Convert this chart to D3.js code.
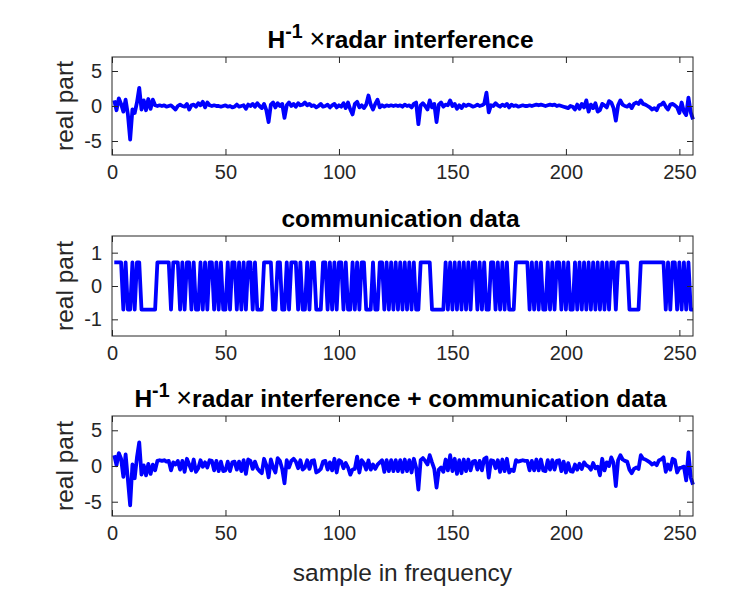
<!DOCTYPE html>
<html><head><meta charset="utf-8">
<script src="https://cdn.jsdelivr.net/npm/d3@7/dist/d3.min.js"></script>
<style>
body{margin:0;background:#fff}
text{font-family:"Liberation Sans",Arial,Helvetica,sans-serif}
</style>
</head><body>
<svg id="chart" width="750" height="600"></svg>
<script>
// ---------- data ----------
const radarInterference = [
 0.8,-0.6,1.1,0.3,-0.8,0.9,-1.2,-4.8,-0.5,-1.0,0.5,2.6,-0.5,0.8,-0.6,1.0,
 -0.4,0.9,0.1,0.0,0.1,0.0,0.1,-0.1,0.0,0.1,-0.2,-0.5,0.0,0.2,0.0,-0.1,
 0.3,-0.5,0.1,0.2,-0.1,0.4,0.1,0.6,-0.2,0.5,0.1,0.0,0.1,0.0,0.0,-0.1,
 0.0,0.1,-0.1,0.0,-0.2,-0.1,0.2,-0.1,0.0,0.1,-0.4,0.2,0.0,0.3,-0.1,0.4,
 0.0,-0.3,0.3,-0.6,-2.3,0.2,0.5,-0.2,0.4,0.0,0.3,-1.7,0.1,0.5,0.0,0.3,
 -0.1,0.4,0.1,0.2,0.5,0.1,0.3,0.0,0.1,-0.2,0.0,0.3,-0.1,0.0,0.2,-0.2,
 0.1,0.3,-0.2,0.1,-0.1,0.4,-0.3,0.5,-0.5,-1.2,0.3,0.6,-0.2,0.1,-0.3,0.2,
 1.5,0.2,-0.5,0.3,0.9,-0.2,0.1,-0.1,0.1,0.0,0.1,0.0,0.1,0.0,0.1,-0.1,
 0.2,0.0,0.1,-0.2,0.3,0.5,-2.6,0.1,0.4,0.0,-0.5,0.8,-0.2,0.3,-2.3,0.2,
 0.5,-0.1,0.2,0.1,0.8,0.0,0.3,-0.4,0.1,-0.3,0.2,0.0,0.2,0.1,-0.1,0.0,
 0.2,0.0,0.1,0.3,1.9,-0.9,0.1,0.0,0.4,0.1,-0.1,0.2,0.0,0.3,-0.2,0.2,
 0.0,0.1,-0.1,0.0,0.1,0.0,0.0,0.1,0.0,0.1,0.2,0.1,0.2,0.1,0.0,0.1,
 0.2,0.1,0.2,0.0,0.1,0.0,-0.1,-0.2,-0.3,0.0,-0.1,-0.5,0.2,-0.4,0.3,-0.2,
 0.8,-0.8,0.2,-0.3,0.4,-0.8,-0.6,0.3,0.1,-0.2,0.7,0.5,-0.3,-2.1,0.1,0.8,
 0.2,0.0,-0.1,0.2,-0.3,0.3,0.5,0.3,0.8,0.3,0.2,0.0,-0.2,-0.5,-0.3,-0.6,
 0.1,0.2,0.5,-0.1,-0.5,0.2,0.3,0.1,-0.2,-1.0,0.5,-0.8,-1.3,1.2,-0.9,-1.9
];
const communicationData = [
 0.71,0.71,0.71,0.71,-0.71,0.71,-0.71,-0.71,0.71,-0.71,0.71,0.71,-0.71,-0.71,-0.71,-0.71,
 -0.71,-0.71,-0.71,0.71,0.71,0.71,0.71,0.71,0.71,-0.71,0.71,0.71,0.71,-0.71,0.71,-0.71,
 0.71,0.71,-0.71,0.71,-0.71,-0.71,0.71,-0.71,0.71,-0.71,0.71,0.71,-0.71,0.71,-0.71,0.71,
 -0.71,-0.71,0.71,-0.71,0.71,0.71,-0.71,0.71,-0.71,0.71,-0.71,0.71,0.71,-0.71,0.71,-0.71,
 -0.71,-0.71,0.71,0.71,0.71,0.71,-0.71,-0.71,0.71,0.71,-0.71,-0.71,0.71,-0.71,0.71,0.71,
 0.71,-0.71,0.71,-0.71,-0.71,0.71,-0.71,0.71,0.71,-0.71,-0.71,-0.71,0.71,0.71,-0.71,0.71,
 -0.71,0.71,-0.71,0.71,0.71,-0.71,0.71,-0.71,-0.71,0.71,-0.71,0.71,-0.71,0.71,0.71,-0.71,
 -0.71,-0.71,0.71,-0.71,-0.71,0.71,0.71,-0.71,0.71,-0.71,0.71,-0.71,0.71,-0.71,0.71,-0.71,
 0.71,-0.71,0.71,-0.71,0.71,-0.71,-0.71,0.71,0.71,0.71,0.71,0.71,-0.71,-0.71,-0.71,-0.71,
 -0.71,-0.71,0.71,-0.71,0.71,-0.71,0.71,-0.71,0.71,-0.71,0.71,-0.71,0.71,-0.71,0.71,0.71,
 -0.71,0.71,-0.71,0.71,-0.71,-0.71,0.71,0.71,-0.71,0.71,-0.71,0.71,-0.71,0.71,-0.71,-0.71,
 -0.71,0.71,0.71,0.71,0.71,0.71,0.71,-0.71,0.71,-0.71,0.71,-0.71,0.71,-0.71,-0.71,0.71,
 -0.71,0.71,-0.71,0.71,0.71,-0.71,0.71,-0.71,0.71,-0.71,-0.71,0.71,-0.71,0.71,-0.71,0.71,
 -0.71,0.71,-0.71,0.71,-0.71,0.71,-0.71,0.71,-0.71,0.71,-0.71,0.71,0.71,-0.71,0.71,0.71,
 0.71,0.71,0.71,-0.71,-0.71,-0.71,-0.71,-0.71,0.71,0.71,0.71,0.71,0.71,0.71,0.71,0.71,
 0.71,0.71,0.71,-0.71,0.71,-0.71,0.71,0.71,-0.71,0.71,-0.71,0.71,-0.71,0.71,-0.71,-0.71
];
const combinedSignal = [
 1.51,0.11,1.81,1.01,-1.51,1.61,-1.91,-5.51,0.21,-1.71,1.21,3.31,-1.21,0.09,-1.31,0.29,
 -1.11,0.19,-0.61,0.71,0.81,0.71,0.81,0.61,0.71,-0.61,0.51,0.21,0.71,-0.51,0.71,-0.81,
 1.01,0.21,-0.61,0.91,-0.81,-0.31,0.81,-0.11,0.51,-0.21,0.81,0.71,-0.61,0.71,-0.71,0.61,
 -0.71,-0.61,0.61,-0.71,0.51,0.61,-0.51,0.61,-0.71,0.81,-1.11,0.91,0.71,-0.41,0.61,-0.31,
 -0.71,-1.01,1.01,0.11,-1.59,0.91,-0.21,-0.91,1.11,0.71,-0.41,-2.41,0.81,-0.21,0.71,1.01,
 0.61,-0.31,0.81,-0.51,-0.21,0.81,-0.41,0.71,0.81,-0.91,-0.71,-0.41,0.61,0.71,-0.51,0.51,
 -0.61,1.01,-0.91,0.81,0.61,-0.31,0.41,-0.21,-1.21,-0.49,-0.41,1.31,-0.91,0.81,0.41,-0.51,
 0.79,-0.51,0.21,-0.41,0.19,0.51,0.81,-0.81,0.81,-0.71,0.81,-0.71,0.81,-0.71,0.81,-0.81,
 0.91,-0.71,0.81,-0.91,1.01,-0.21,-3.31,0.81,1.11,0.71,0.21,1.51,0.51,-0.41,-3.01,-0.51,
 -0.21,-0.81,0.91,-0.61,1.51,-0.71,1.01,-1.11,0.81,-1.01,0.91,-0.71,0.91,-0.61,0.61,0.71,
 -0.51,0.71,-0.61,1.01,1.19,-1.61,0.81,0.71,-0.31,0.81,-0.81,0.91,-0.71,1.01,-0.91,-0.51,
 -0.71,0.81,0.61,0.71,0.81,0.71,0.71,-0.61,0.71,-0.61,0.91,-0.61,0.91,-0.61,-0.71,0.81,
 -0.51,0.81,-0.51,0.71,0.81,-0.71,0.61,-0.91,0.41,-0.71,-0.81,0.21,-0.51,0.31,-0.41,0.51,
 0.09,-0.09,-0.51,0.41,-0.31,-0.09,-1.31,1.01,-0.61,0.51,-0.01,1.21,0.41,-2.81,0.81,1.51,
 0.91,0.71,0.61,-0.51,-1.01,-0.41,-0.21,-0.41,1.51,1.01,0.91,0.71,0.51,0.21,0.41,0.11,
 0.81,0.91,1.21,-0.81,0.21,-0.51,1.01,0.81,-0.91,-0.29,-0.21,-0.09,-2.01,1.91,-1.61,-2.61
];
const xTickValues = [0, 50, 100, 150, 200, 250];
const yTicksRadar = [-5, 0, 5];
const yTicksComm = [-1, 0, 1];

// ---------- layout ----------
const W = 750, H = 600;
const left = 112, right = 693;
const panels = [
  {data: radarInterference, top: 57, bottom: 155, yDomain: [-7, 7], yTicks: yTicksRadar, title: "radar"},
  {data: communicationData, top: 236, bottom: 336, yDomain: [-1.5, 1.5], yTicks: yTicksComm, title: "communication data"},
  {data: combinedSignal, top: 416, bottom: 516, yDomain: [-7, 7], yTicks: yTicksRadar, title: "combined"}
];

const svg = d3.select("#chart");
svg.append("rect").attr("width", W).attr("height", H).attr("fill", "#fff");

const axisColor = "#262626";
const tickFont = 20, labelFont = 24.5, titleFont = 24.5;

const x = d3.scaleLinear().domain([0, 256]).range([left, right]);

panels.forEach((p, i) => {
  const y = d3.scaleLinear().domain(p.yDomain).range([p.bottom, p.top]);
  const g = svg.append("g");

  const line = d3.line().x((d, k) => x(k + 1)).y(d => y(d));
  g.append("path").datum(p.data)
    .attr("d", line).attr("fill", "none")
    .attr("stroke", "#0000ff").attr("stroke-width", 3.8)
    .attr("stroke-linejoin", "round").attr("stroke-linecap", "butt");

  const xa = d3.axisBottom(x).tickValues(xTickValues).tickSizeInner(-6).tickSizeOuter(0).tickPadding(10);
  const xaTop = d3.axisTop(x).tickValues(xTickValues).tickSizeInner(-6).tickSizeOuter(0).tickFormat("");
  const ya = d3.axisLeft(y).tickValues(p.yTicks).tickSizeInner(-6).tickSizeOuter(0).tickPadding(10);
  const yaR = d3.axisRight(y).tickValues(p.yTicks).tickSizeInner(-6).tickSizeOuter(0).tickFormat("");

  const styleAxis = sel => {
    sel.select(".domain").remove();
    sel.selectAll("line").attr("stroke", axisColor).attr("stroke-width", 1);
    sel.selectAll("text").attr("fill", axisColor).attr("font-size", tickFont)
      .attr("font-family", '"Liberation Sans", Arial, sans-serif');
  };
  g.append("g").attr("transform", `translate(0,${p.bottom})`).call(xa).call(styleAxis)
    .selectAll("text").attr("dy", "0.71em");
  g.append("g").attr("transform", `translate(0,${p.top})`).call(xaTop).call(styleAxis);
  g.append("g").attr("transform", `translate(${left},0)`).call(ya).call(styleAxis)
    .selectAll("text").text(d => d < 0 ? "-" + Math.abs(d) : d);
  g.append("g").attr("transform", `translate(${right},0)`).call(yaR).call(styleAxis);

  g.append("rect").attr("x", left).attr("y", p.top)
    .attr("width", right - left).attr("height", p.bottom - p.top)
    .attr("fill", "none").attr("stroke", axisColor).attr("stroke-width", 1);

  g.append("text")
    .attr("transform", `translate(${73},${(p.top + p.bottom) / 2}) rotate(-90)`)
    .attr("text-anchor", "middle").attr("font-size", labelFont).attr("fill", axisColor)
    .text("real part");

  const t = g.append("text").attr("x", (left + right) / 2 - 2).attr("y", p.top - 9)
    .attr("text-anchor", "middle").attr("font-size", titleFont).attr("font-weight", "bold")
    .attr("fill", "#000");
  if (p.title === "communication data") {
    t.text("communication data");
  } else {
    t.append("tspan").text("H");
    t.append("tspan").attr("dy", -10).attr("font-size", titleFont * 0.8).text("-1");
    t.append("tspan").attr("dy", 10).text("\u00a0");
    t.append("tspan").attr("font-weight", "normal").attr("font-size", titleFont * 1.1).text("\u00d7");
    t.append("tspan").text(p.title === "radar" ? "radar interference" : "radar interference + communication data");
  }
});

svg.append("text").attr("x", (left + right) / 2).attr("y", 581)
  .attr("text-anchor", "middle").attr("font-size", labelFont).attr("fill", axisColor)
  .text("sample in frequency");
</script>
</body></html>
